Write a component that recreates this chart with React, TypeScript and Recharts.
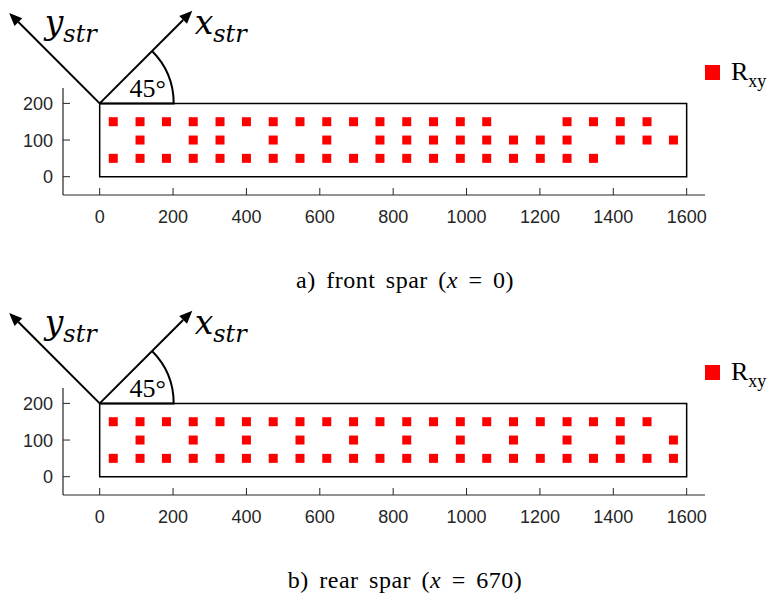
import React from "react";
import { ScatterChart, Scatter, XAxis, YAxis, ReferenceArea, ReferenceDot } from "recharts";

// Stringer stations along the spar (mm), one list per row of the web
const frontUpper = [37, 110, 182, 255, 328, 400, 473, 546, 619, 692, 764, 837, 910, 983, 1055, 1274, 1346, 1419, 1492];
const frontMiddle = [110, 255, 328, 473, 619, 764, 837, 910, 983, 1055, 1128, 1201, 1274, 1419, 1492, 1564];
const frontLower = [37, 110, 182, 255, 328, 400, 473, 546, 619, 692, 764, 837, 910, 983, 1055, 1128, 1201, 1274, 1346];

const rearUpper = [37, 110, 182, 255, 328, 400, 473, 546, 619, 692, 764, 837, 910, 983, 1055, 1128, 1201, 1274, 1346, 1419, 1492];
const rearMiddle = [110, 255, 400, 546, 692, 837, 983, 1128, 1274, 1419, 1564];
const rearLower = [37, 110, 182, 255, 328, 400, 473, 546, 619, 692, 764, 837, 910, 983, 1055, 1128, 1201, 1274, 1346, 1419, 1492, 1564];

// row heights on the web (mm)
const rowY = [150, 100, 50];

// web outline
const webX = [0, 1600];
const webY = [0, 200];

const xTicks = [0, 200, 400, 600, 800, 1000, 1200, 1400, 1600];
const yTicks = [0, 100, 200];

const AXIS = "#262626";
const RED = "#ff0000";
const SANS = "Liberation Sans, Arial, sans-serif";
const SERIF = "Liberation Serif, Times New Roman, serif";
const MATH = "DejaVu Serif, serif";

type Pt = { x: number; y: number };

function toPoints(rows: number[][]): Pt[] {
  return rows.flatMap((xs, i) => xs.map((x) => ({ x, y: rowY[i] })));
}

// ticks point inward, MATLAB style
function XTick(props: any) {
  const { x, y, payload } = props;
  return (
    <g>
      <line x1={x} y1={y} x2={x} y2={y - 7} stroke={AXIS} strokeWidth={1} />
      <text x={x} y={y + 28} textAnchor="middle" fill={AXIS} fontSize={18} fontFamily={SANS}>
        {payload.value}
      </text>
    </g>
  );
}

function YTick(props: any) {
  const { x, y, payload } = props;
  return (
    <g>
      <line x1={x} y1={y} x2={x + 7} y2={y} stroke={AXIS} strokeWidth={1} />
      <text x={x - 10} y={y + 6.5} textAnchor="end" fill={AXIS} fontSize={18} fontFamily={SANS}>
        {payload.value}
      </text>
    </g>
  );
}

function Square(props: any) {
  const { cx, cy } = props;
  return <rect x={cx - 4.5} y={cy - 4.5} width={9} height={9} fill={RED} />;
}

function arrow(cx: number, cy: number, ux: number, uy: number, len: number) {
  const tx = cx + ux * len;
  const ty = cy + uy * len;
  const bx = tx - ux * 13;
  const by = ty - uy * 13;
  const px = -uy * 5.5;
  const py = ux * 5.5;
  return (
    <g>
      <line x1={cx} y1={cy} x2={bx} y2={by} stroke="#000" strokeWidth={2} />
      <polygon points={`${tx},${ty} ${bx + px},${by + py} ${bx - px},${by - py}`} fill="#000" />
    </g>
  );
}

// stringer coordinate frame drawn at the upper web corner
function StringerFrame(props: any) {
  const { cx, cy } = props;
  const s = Math.SQRT1_2;
  const r = 74;
  return (
    <g>
      {arrow(cx, cy, s, -s, 131)}
      {arrow(cx, cy, -s, -s, 128)}
      <path
        d={`M ${cx} ${cy} L ${cx + r} ${cy} A ${r} ${r} 0 0 0 ${cx + r * s} ${cy - r * s}`}
        fill="none"
        stroke="#000"
        strokeWidth={2}
      />
      <text x={cx + 48} y={cy - 6} textAnchor="middle" fontSize={26} fontFamily={SERIF} fill="#000">
        45°
      </text>
      <text x={cx - 55} y={cy - 69} fontSize={33} fontFamily={MATH} fontStyle="italic" fill="#000">
        y<tspan fontSize={24} dy={8}>str</tspan>
      </text>
      <text x={cx + 95} y={cy - 69} fontSize={33} fontFamily={MATH} fontStyle="italic" fill="#000">
        x<tspan fontSize={24} dy={8}>str</tspan>
      </text>
    </g>
  );
}

function SparPanel({ rows, caption, value }: { rows: number[][]; caption: string; value: string }) {
  const points = toPoints(rows);
  return (
    <div style={{ position: "relative", width: 774, height: 300 }}>
      <ScatterChart width={774} height={300} margin={{ top: 88, right: 69, bottom: 75, left: 3 }}>
        <XAxis
          type="number"
          dataKey="x"
          domain={[-100, 1650]}
          ticks={xTicks}
          height={30}
          tickSize={0}
          tickMargin={0}
          tickLine={false}
          axisLine={{ stroke: AXIS, strokeWidth: 1.2 }}
          tick={<XTick />}
          allowDataOverflow
        />
        <YAxis
          type="number"
          dataKey="y"
          domain={[-50, 242]}
          ticks={yTicks}
          width={60}
          tickSize={0}
          tickMargin={0}
          tickLine={false}
          axisLine={{ stroke: AXIS, strokeWidth: 1.2 }}
          tick={<YTick />}
          allowDataOverflow
        />
        <ReferenceArea
          x1={webX[0]}
          x2={webX[1]}
          y1={webY[0]}
          y2={webY[1]}
          fill="none"
          stroke="#000"
          strokeWidth={1.5}
        />
        <Scatter name="Rxy" data={points} shape={<Square />} isAnimationActive={false} />
        <ReferenceDot x={webX[0]} y={webY[1]} ifOverflow="visible" shape={<StringerFrame />} />
      </ScatterChart>
      <svg width={774} height={300} style={{ position: "absolute", left: 0, top: 0, pointerEvents: "none" }}>
        <rect x={705} y={65} width={15} height={15} fill={RED} />
        <text x={731} y={80} fontSize={26} fontFamily={SERIF} fill="#000">
          R<tspan fontSize={18} dy={7}>xy</tspan>
        </text>
        <text
          x={405}
          y={288}
          textAnchor="middle"
          fontSize={24}
          fontFamily={SERIF}
          fill="#000"
          letterSpacing={0.5}
          wordSpacing={4}
        >
          {caption}(<tspan fontStyle="italic">x</tspan> = {value})
        </text>
      </svg>
    </div>
  );
}

export default function App() {
  return (
    <div style={{ position: "absolute", left: 0, top: 0, width: 774, height: 601, background: "#fff" }}>
      <SparPanel rows={[frontUpper, frontMiddle, frontLower]} caption="a) front spar " value="0" />
      <SparPanel rows={[rearUpper, rearMiddle, rearLower]} caption="b) rear spar " value="670" />
    </div>
  );
}
